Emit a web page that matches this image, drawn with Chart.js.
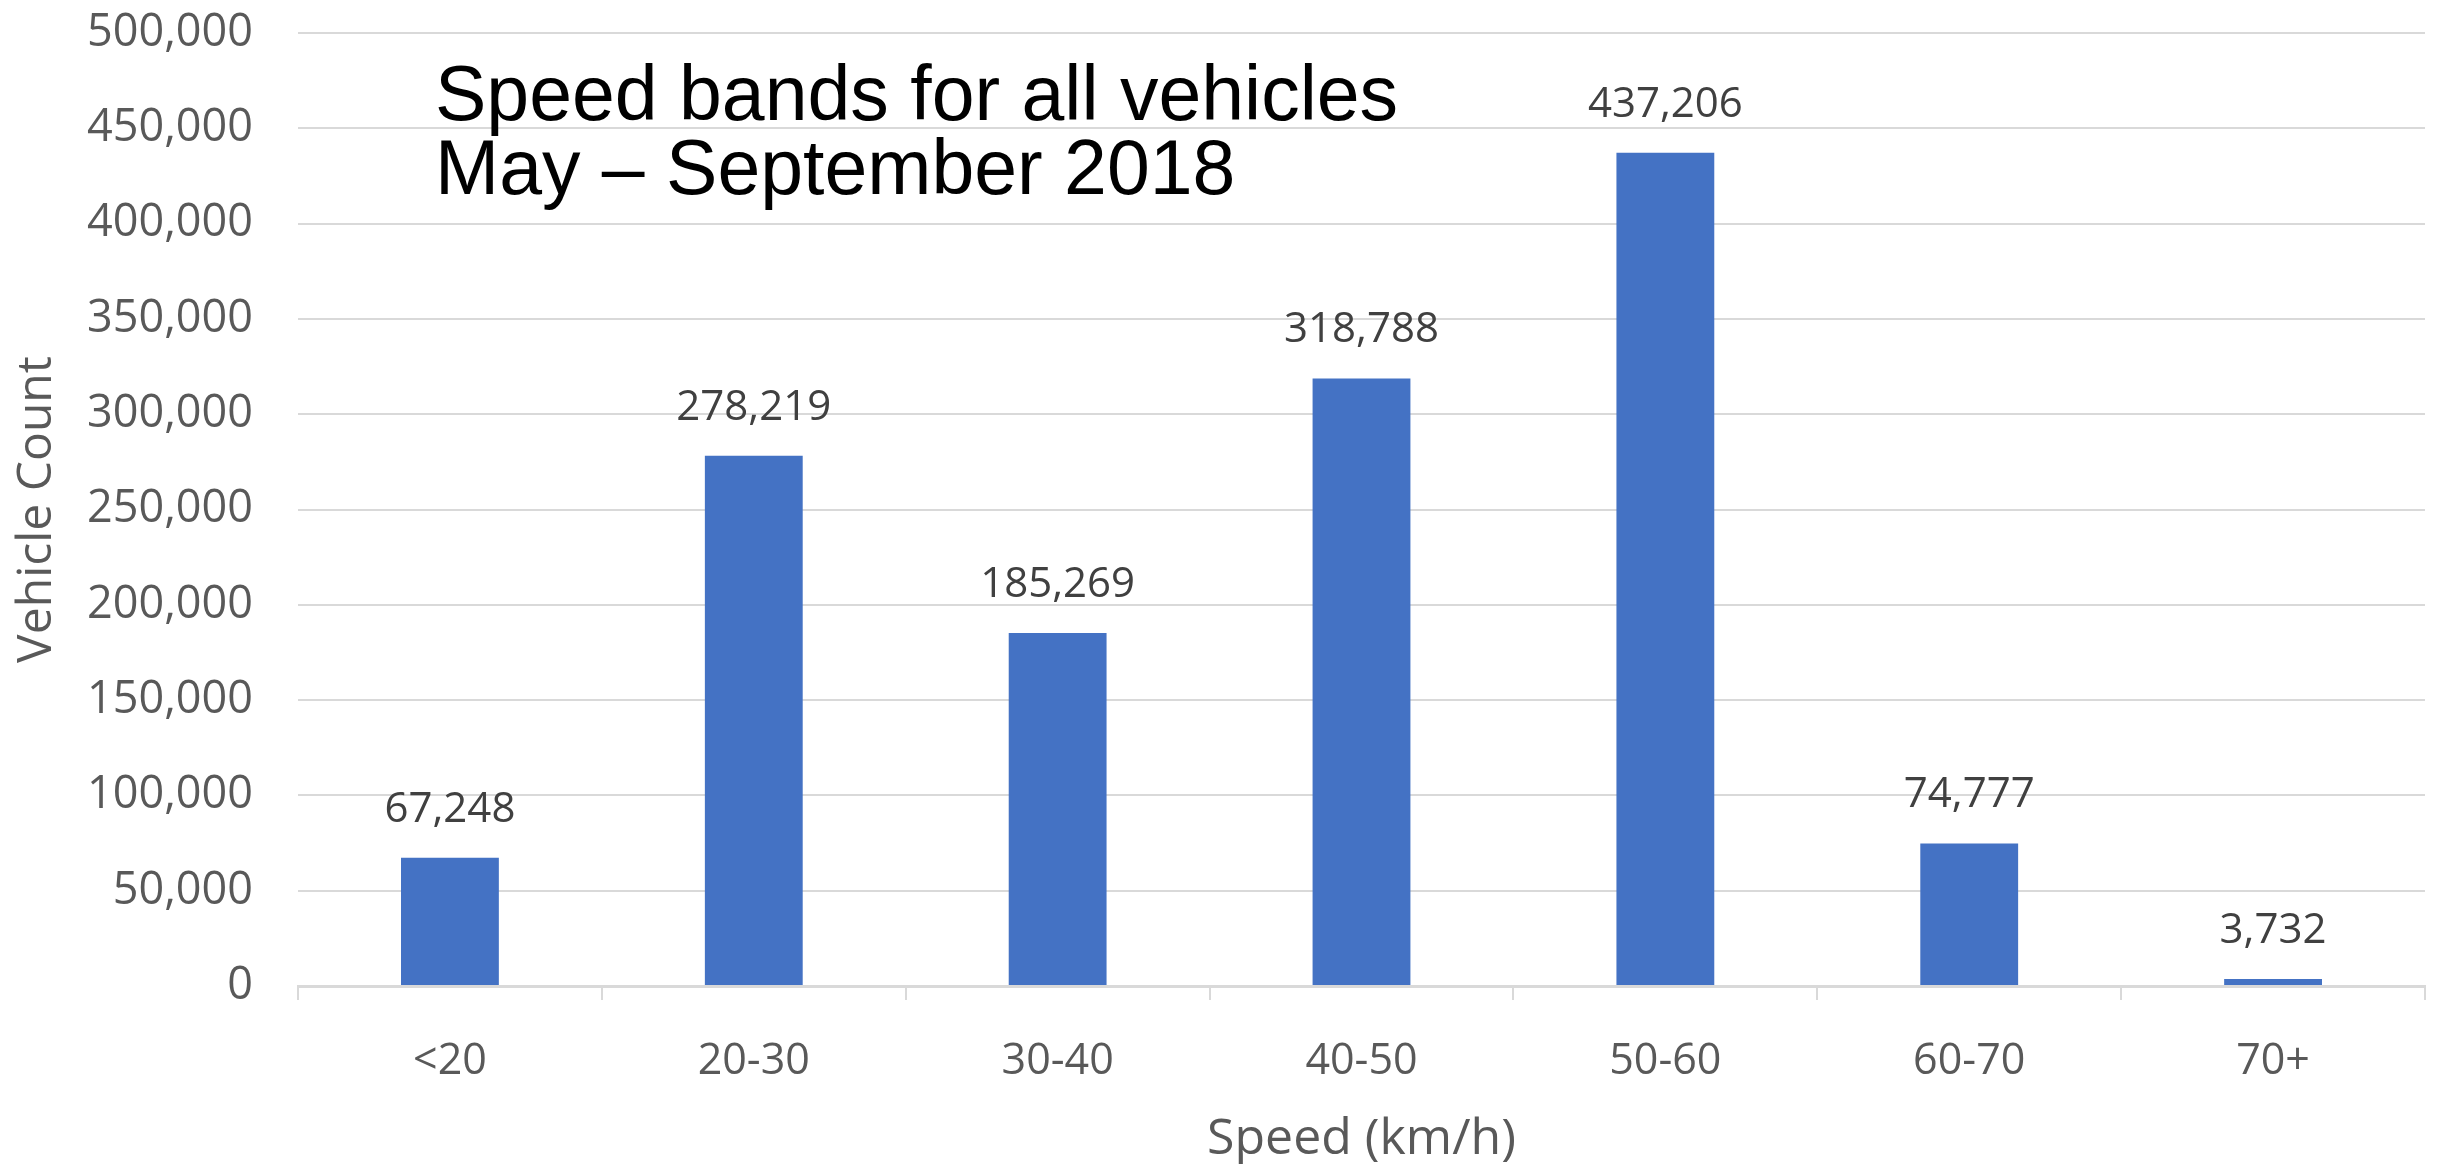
<!DOCTYPE html>
<html>
<head>
<meta charset="utf-8">
<title>Speed bands for all vehicles</title>
<script src="https://cdn.jsdelivr.net/npm/chart.js@4/dist/chart.umd.min.js"></script>
<style>
    html, body { margin: 0; padding: 0; background: #fff; }
    #chart { display: block; }
</style>
</head>
<body>
<canvas id="chart" width="2438" height="1164"></canvas>
<script>
const speedBands = ['<20', '20-30', '30-40', '40-50', '50-60', '60-70', '70+'];
const vehicleCounts = [67248, 278219, 185269, 318788, 437206, 74777, 3732];
const titleLines = ['Speed bands for all vehicles', 'May \u2013 September 2018'];

const fmt = (v) => v.toLocaleString('en-US');

// value labels above each bar
const barLabels = {
    id: 'barLabels',
    afterDatasetsDraw(chart) {
        const ctx = chart.ctx;
        ctx.save();
        ctx.font = '42px "Open Sans"';
        ctx.fillStyle = '#404040';
        ctx.textAlign = 'center';
        ctx.textBaseline = 'alphabetic';
        chart.getDatasetMeta(0).data.forEach((bar, i) => {
            ctx.fillText(fmt(vehicleCounts[i]), bar.x, bar.y - 36);
        });
        ctx.restore();
    }
};

// two-line title sitting inside the plot area
const chartTitle = {
    id: 'chartTitle',
    afterDraw(chart) {
        const ctx = chart.ctx;
        ctx.save();
        ctx.font = '77px "Liberation Sans"';
        ctx.fillStyle = '#000';
        ctx.textAlign = 'left';
        ctx.textBaseline = 'alphabetic';
        titleLines.forEach((line, i) => ctx.fillText(line, 435, 120 + i * 74));
        ctx.restore();
    }
};

Chart.defaults.font.family = '"Open Sans", sans-serif';
Chart.defaults.color = '#595959';

new Chart(document.getElementById('chart'), {
    type: 'bar',
    data: {
        labels: speedBands,
        datasets: [{
            data: vehicleCounts,
            backgroundColor: '#4472C4',
            barPercentage: 0.322,
            categoryPercentage: 1
        }]
    },
    options: {
        responsive: false,
        animation: false,
        layout: { padding: { top: 33, right: 13, left: 0, bottom: 0 } },
        plugins: { legend: { display: false }, tooltip: { enabled: false } },
        scales: {
            x: {
                grid: { drawOnChartArea: false, drawTicks: true, tickLength: 14, color: '#d9d9d9', lineWidth: 2 },
                border: { color: '#d9d9d9', width: 3 },
                ticks: { font: { size: 43 }, color: '#595959', padding: 36 },
                title: { display: true, text: 'Speed (km/h)', font: { size: 50, lineHeight: 0.96 }, color: '#595959', padding: 0 },
                afterFit: (scale) => { scale.height = 178; }
            },
            y: {
                min: 0,
                max: 500000,
                grid: { drawTicks: false, color: '#d9d9d9', lineWidth: 2 },
                border: { display: false },
                ticks: { stepSize: 50000, font: { size: 45 }, color: '#595959', padding: 45, callback: (v) => fmt(v) },
                title: { display: true, text: 'Vehicle Count', font: { size: 48 }, color: '#595959', padding: { top: 9, bottom: 0 } },
                afterFit: (scale) => {
                    scale.width = 298;
                    scale.paddingTop = 0;
                    scale.paddingBottom = 0;
                }
            }
        }
    },
    plugins: [barLabels, chartTitle]
});
</script>
</body>
</html>
